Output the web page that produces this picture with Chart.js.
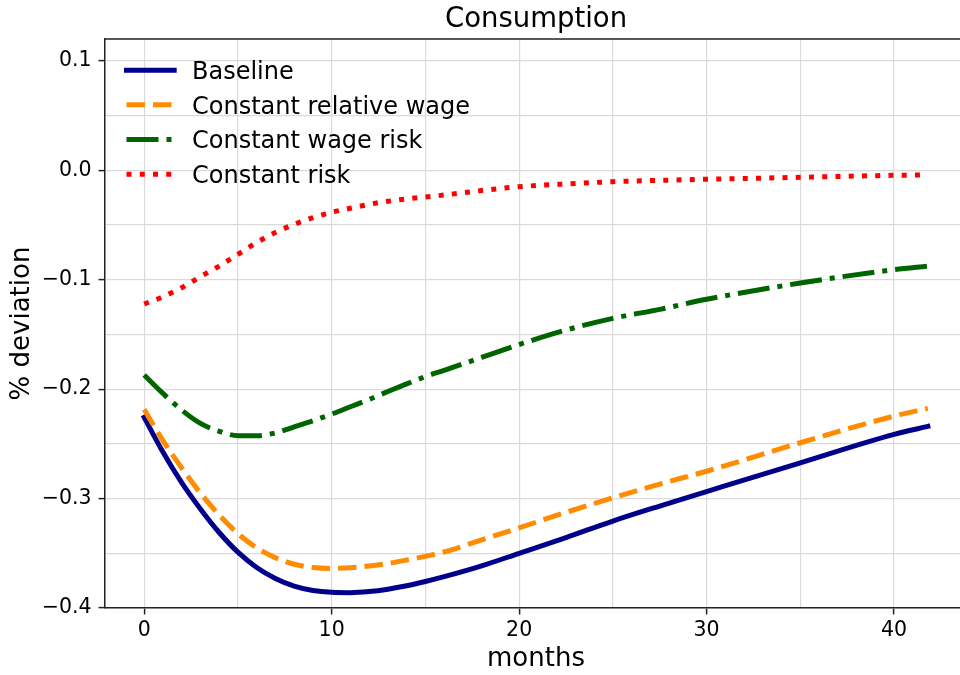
<!DOCTYPE html>
<html><head><meta charset="utf-8">
<script src="https://cdn.jsdelivr.net/npm/chart.js@4"></script>
<style>
html,body{margin:0;padding:0;background:#fff;overflow:hidden;width:960px;height:675px;}
#wrap{position:relative;width:970px;height:675px;}
</style></head><body><div id="wrap"><canvas id="c" width="970" height="675"></canvas></div>
<script>
const months = [0,1,2,3,4,5,6,7,8,9,10,11,12,13,14,15,16,18,20,22.5,25,27.5,30,35,40,41.8];
const baseline = [-0.2258,-0.2575,-0.2855,-0.3095,-0.3310,-0.3490,-0.3630,-0.3730,-0.3800,-0.3840,-0.3857,-0.3860,-0.3850,-0.3828,-0.3797,-0.3758,-0.3714,-0.3615,-0.3500,-0.3356,-0.3205,-0.3068,-0.2936,-0.2673,-0.2413,-0.2340];
const constRelWage = [-0.2185,-0.2470,-0.2720,-0.2950,-0.3150,-0.3320,-0.3450,-0.3540,-0.3600,-0.3630,-0.3638,-0.3632,-0.3617,-0.3593,-0.3562,-0.3528,-0.3488,-0.3378,-0.3267,-0.3126,-0.2993,-0.2868,-0.2750,-0.2490,-0.2246,-0.2176];
const constWageRisk = [-0.1871,-0.2039,-0.2191,-0.2313,-0.2385,-0.2425,-0.2425,-0.2400,-0.2344,-0.2289,-0.2228,-0.2161,-0.2094,-0.2022,-0.1952,-0.1885,-0.1828,-0.1710,-0.1592,-0.1460,-0.1353,-0.1271,-0.1179,-0.1030,-0.0908,-0.0875];
const constRisk = [-0.1222,-0.1155,-0.1073,-0.0972,-0.0875,-0.0768,-0.0660,-0.0568,-0.0494,-0.0433,-0.0384,-0.0347,-0.0311,-0.0283,-0.0262,-0.0244,-0.0226,-0.0185,-0.0150,-0.0125,-0.0104,-0.0092,-0.0082,-0.0064,-0.0046,-0.0043];
const seriesLabels = ['Baseline','Constant relative wage','Constant wage risk','Constant risk'];
const xMajorTicks = [0,10,20,30,40];
const xTickLabels = ['0','10','20','30','40'];
const yMajorTicks = [-0.4,-0.3,-0.2,-0.1,0.0,0.1];
const yTickLabels = ['\u22120.4','\u22120.3','\u22120.2','\u22120.1','0.0','0.1'];

const FONT = "'DejaVu Sans', sans-serif";
Chart.defaults.font.family = FONT;
Chart.defaults.color = '#000';

function pts(ys){ return months.map((m,i)=>({x:m,y:ys[i]})); }
function majorIndex(list, v){ for(let i=0;i<list.length;i++){ if(Math.abs(list[i]-v)<1e-6) return i; } return -1; }

const frame = {
  id:'frame',
  afterDraw(chart){
    const {ctx, chartArea:a} = chart;
    ctx.save();
    ctx.strokeStyle = '#222'; ctx.lineWidth = 1.5;
    ctx.beginPath();
    ctx.moveTo(a.left, a.top); ctx.lineTo(a.right, a.top); ctx.lineTo(a.right, a.bottom);
    ctx.stroke();
    ctx.restore();
  }
};
const insideLegend = {
  id:'insideLegend',
  afterDraw(chart){
    const {ctx, chartArea:a} = chart;
    const x0 = a.left + 21.5, x1 = x0 + 47.7, tx = a.left + 87;
    chart.data.datasets.forEach((ds,i)=>{
      const y = a.top + 31.2 + i*34.67;
      ctx.save();
      ctx.strokeStyle = ds.borderColor; ctx.lineWidth = ds.borderWidth;
      ctx.setLineDash(ds.borderDash || []);
      ctx.lineCap = ds.borderCapStyle || 'butt';
      ctx.beginPath(); ctx.moveTo(x0,y); ctx.lineTo(x1,y); ctx.stroke();
      ctx.setLineDash([]);
      ctx.fillStyle = '#000'; ctx.font = "24px " + FONT;
      ctx.textAlign = 'left'; ctx.textBaseline = 'alphabetic';
      ctx.fillText(ds.label, tx, y + 8.8);
      ctx.restore();
    });
  }
};

new Chart(document.getElementById('c'), {
  type:'line',
  data:{ datasets:[
    {label:seriesLabels[0], data:pts(baseline), borderColor:'#00008b', borderWidth:5, borderCapStyle:'square', order:3},
    {label:seriesLabels[1], data:pts(constRelWage), borderColor:'#ff8c00', borderWidth:5, borderDash:[18.5,8], order:2},
    {label:seriesLabels[2], data:pts(constWageRisk), borderColor:'#006400', borderWidth:5, borderDash:[32,8,5,8], order:1},
    {label:seriesLabels[3], data:pts(constRisk), borderColor:'#ff0000', borderWidth:5, borderDash:[5,8.25], order:0}
  ]},
  options:{
    responsive:false, animation:false, devicePixelRatio:1,
    elements:{ point:{radius:0}, line:{cubicInterpolationMode:'monotone', fill:false} },
    layout:{ padding:{left:0,right:3,top:0,bottom:0} },
    plugins:{
      legend:{display:false}, tooltip:{enabled:false},
      title:{display:true, text:'Consumption', fullSize:false, color:'#000',
        font:{family:FONT, size:27.5, weight:'normal'}, padding:{top:3,bottom:3}}
    },
    scales:{
      x:{ type:'linear', min:-2.09, max:43.89,
        afterFit(s){ s.height = 67; },
        border:{color:'#222', width:1.5},
        grid:{ color:'#dadada', lineWidth:1.2, tickLength:6.5, tickWidth:1.5,
          tickColor:(c)=> (c.tick && majorIndex(xMajorTicks,c.tick.value)>=0) ? '#222' : 'rgba(0,0,0,0)' },
        ticks:{ stepSize:5, includeBounds:false, autoSkip:false, maxRotation:0, padding:4,
          font:{size:20.5}, color:'#000',
          callback:(v)=>{ const i = majorIndex(xMajorTicks,v); return i>=0 ? xTickLabels[i] : ''; } },
        title:{display:true, text:'months', color:'#000', font:{size:26}, padding:{top:0,bottom:0}}
      },
      y:{ type:'linear', min:-0.4, max:0.12,
        afterFit(s){ s.width = 105; },
        border:{color:'#222', width:1.5},
        grid:{ color:'#dadada', lineWidth:1.2, tickLength:6.5, tickWidth:1.5,
          tickColor:(c)=> (c.tick && majorIndex(yMajorTicks,c.tick.value)>=0) ? '#222' : 'rgba(0,0,0,0)' },
        ticks:{ stepSize:0.05, includeBounds:false, autoSkip:false, padding:7,
          font:{size:20.5}, color:'#000',
          callback:(v)=>{ const i = majorIndex(yMajorTicks,v); return i>=0 ? yTickLabels[i] : ''; } },
        title:{display:true, text:'% deviation', color:'#000', font:{size:26}, padding:{top:7,bottom:0}}
      }
    }
  },
  plugins:[frame, insideLegend]
});
</script></body></html>
